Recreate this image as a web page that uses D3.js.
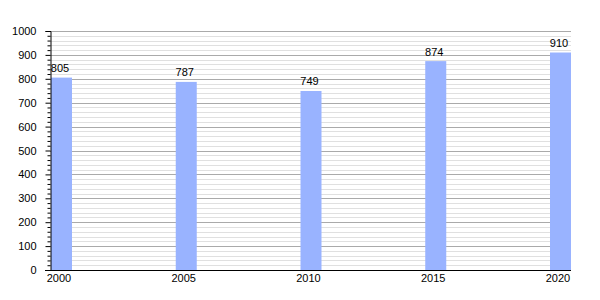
<!DOCTYPE html>
<html><head><meta charset="utf-8">
<script src="https://cdn.jsdelivr.net/npm/d3@7"></script>
<style>body{margin:0;background:#fff}svg{display:block}text{font-family:"Liberation Sans",Arial,sans-serif;font-size:11px;fill:#000}</style>
</head><body><svg width="600" height="300"></svg>
<script>
const years = [2000, 2005, 2010, 2015, 2020];
const values = [805, 787, 749, 874, 910];
const majorTicks = [0,100,200,300,400,500,600,700,800,900,1000];

const svg = d3.select("svg");
const x = d3.scaleLinear().domain([2000, 2020]).range([51, 550]);
const y = d3.scaleLinear().domain([0, 1000]).range([270, 31]);
const barW = 21;
const left = 50, right = 571;

const minor = d3.range(0, 1001, 20).filter(v => v % 100 !== 0);
svg.append("g").selectAll("line").data(minor).join("line")
  .attr("x1", left).attr("x2", right).attr("y1", d => Math.round(y(d))+0.5).attr("y2", d => Math.round(y(d))+0.5)
  .attr("stroke", "#e0e0e0");
svg.append("g").selectAll("line").data(majorTicks.filter(v=>v>0)).join("line")
  .attr("x1", left).attr("x2", right).attr("y1", d => Math.round(y(d))+0.5).attr("y2", d => Math.round(y(d))+0.5)
  .attr("stroke", "#aaaaaa");

svg.append("g").selectAll("rect").data(years).join("rect")
  .attr("x", d => x(d)).attr("width", barW)
  .attr("y", (d,i) => y(values[i])).attr("height", (d,i) => y(0) - y(values[i]))
  .attr("fill", "#99b3ff");

svg.append("g").selectAll("text").data(years).join("text")
  .attr("x", d => x(d) + barW/2 - 1.5).attr("y", (d,i) => y(values[i]) - 5.5)
  .attr("text-anchor", "middle").text((d,i) => values[i]);

// y axis
const ya = svg.append("g").attr("transform", `translate(${left+0.5},0)`)
  .call(d3.axisLeft(y).tickValues(majorTicks).tickSize(5).tickPadding(9).tickFormat(d3.format("d")));
ya.select(".domain").attr("stroke", "#000");
ya.selectAll("text").style("font-size","11px").style("font-family","Liberation Sans, Arial, sans-serif");
svg.append("g").attr("transform", `translate(${left+0.5},0)`)
  .call(d3.axisLeft(y).tickValues(minor).tickSize(3).tickFormat(""))
  .select(".domain").remove();

// x axis
svg.append("line").attr("x1", 45).attr("x2", right).attr("y1", 270.5).attr("y2", 270.5).attr("stroke", "#000");
svg.append("g").selectAll("text").data(years).join("text")
  .attr("x", d => x(d) + barW/2 - 2.5).attr("y", 282)
  .attr("text-anchor", "middle").text(d => d);
</script></body></html>
